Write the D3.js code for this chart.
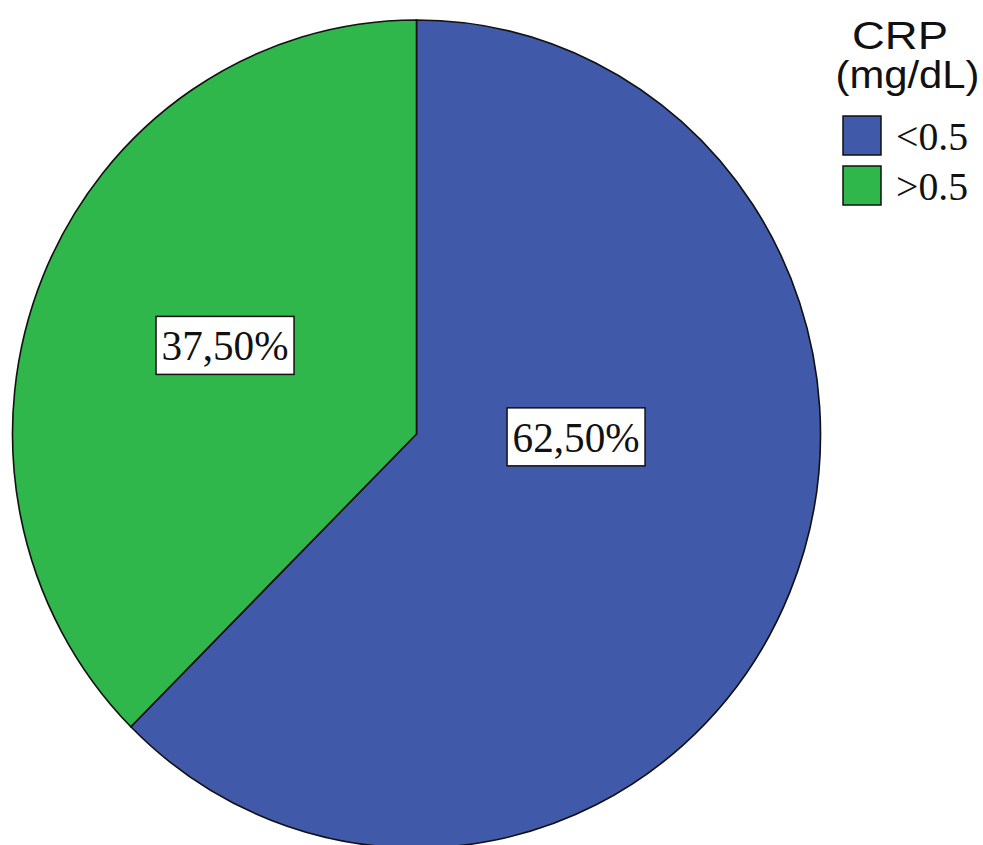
<!DOCTYPE html>
<html>
<head>
<meta charset="utf-8">
<script src="https://cdn.jsdelivr.net/npm/d3@7"></script>
<style>
  html, body { margin: 0; padding: 0; background: #fff; }
  svg { display: block; }
</style>
</head>
<body>
<svg id="chart" width="983" height="845"></svg>
<script>
// CRP distribution (share of patients, %)
const categories = ["<0.5", ">0.5"];
const shares = [62.5, 37.5];
const percentLabels = ["62,50%", "37,50%"];
const legendTitle = ["CRP", "(mg/dL)"];
const colors = ["#4059a9", "#30b74b"];

const svg = d3.select("#chart");

// Pie geometry
const cx = 416.5, cy = 434, rx = 404, ry = 414;

const pie = d3.pie().sort(null).value(d => d.value);
const data = categories.map((c, i) => ({ cat: c, value: shares[i], label: percentLabels[i], color: colors[i] }));
// First slice starts at 12 o'clock and runs clockwise
const arcs = pie(data);

const arc = d3.arc().innerRadius(0).outerRadius(rx);

const pieG = svg.append("g")
  .attr("transform", `translate(${cx},${cy}) scale(1,${ry / rx})`);

pieG.selectAll("path")
  .data(arcs)
  .join("path")
  .attr("d", arc)
  .attr("fill", d => d.data.color)
  .attr("stroke", "#111")
  .attr("stroke-width", 1.6)
  .attr("stroke-linejoin", "miter");

// Value labels in boxes, placed in polar terms (angle clockwise from top, radius fraction)
const labelPlacement = [
  { angle: 91, r: 0.395 },
  { angle: -65.7, r: 0.52 }
];

const labelG = svg.append("g");
arcs.forEach((a, i) => {
  const p = labelPlacement[i];
  const t = p.angle * Math.PI / 180;
  const x = cx + Math.sin(t) * p.r * rx;
  const y = cy - Math.cos(t) * p.r * ry;
  const g = labelG.append("g").attr("transform", `translate(${x},${y})`);
  g.append("rect")
    .attr("x", -69)
    .attr("y", -29)
    .attr("width", 138)
    .attr("height", 58)
    .attr("fill", "#fff")
    .attr("stroke", "#111")
    .attr("stroke-width", 1.5);
  g.append("text")
    .attr("text-anchor", "middle")
    .attr("y", 15)
    .attr("font-family", "'Liberation Serif', 'Times New Roman', serif")
    .attr("font-size", 43)
    .attr("textLength", 127)
    .attr("lengthAdjust", "spacingAndGlyphs")
    .attr("fill", "#111")
    .text(a.data.label);
});

// Legend
const legend = svg.append("g");
legend.selectAll("text.title")
  .data(legendTitle)
  .join("text")
  .attr("class", "title")
  .attr("x", (d, i) => i === 0 ? 900 : 907.5)
  .attr("y", (d, i) => i === 0 ? 49 : 88)
  .attr("text-anchor", "middle")
  .attr("font-family", "'Liberation Sans', Arial, sans-serif")
  .attr("font-size", 38)
  .attr("textLength", (d, i) => i === 0 ? 96 : 144)
  .attr("lengthAdjust", "spacingAndGlyphs")
  .attr("fill", "#111")
  .text(d => d);

const items = legend.selectAll("g.item")
  .data(data)
  .join("g")
  .attr("class", "item")
  .attr("transform", (d, i) => `translate(843,${116 + i * 50})`);

items.append("rect")
  .attr("width", 38)
  .attr("height", 39)
  .attr("fill", d => d.color)
  .attr("stroke", "#111")
  .attr("stroke-width", 1.5);

items.append("text")
  .attr("x", 53)
  .attr("y", 34)
  .attr("font-family", "'Liberation Serif', 'Times New Roman', serif")
  .attr("font-size", 40)
  .attr("textLength", 72)
  .attr("lengthAdjust", "spacingAndGlyphs")
  .attr("fill", "#111")
  .text(d => d.cat);
</script>
</body>
</html>
